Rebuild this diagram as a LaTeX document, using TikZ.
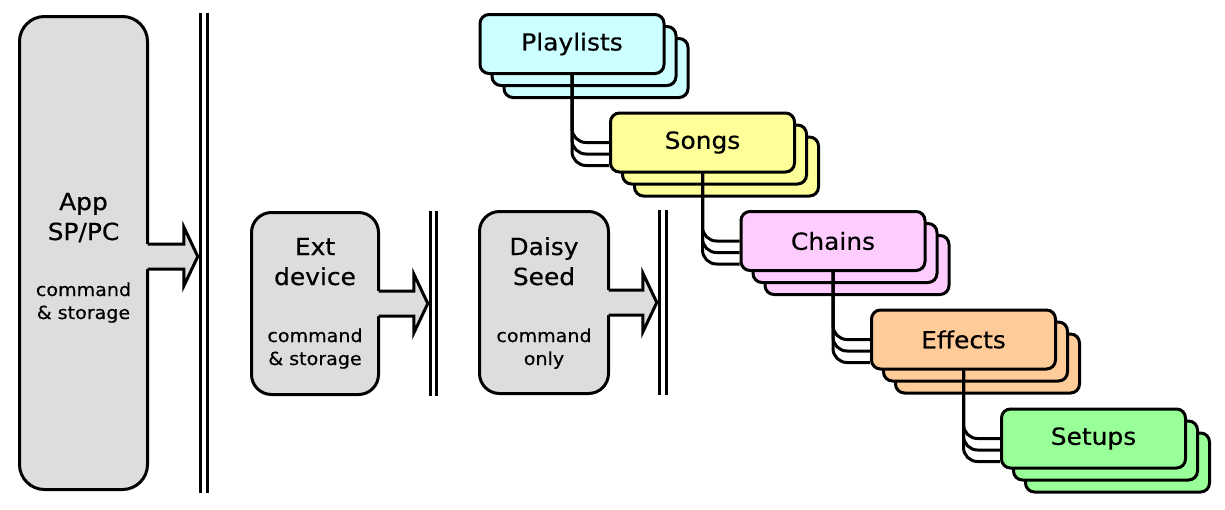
\documentclass[tikz,border=0pt]{standalone}
\usepackage{fontspec}
\setmainfont{DejaVu Sans}[FakeStretch=1.06, FakeBold=0.5]
\usetikzlibrary{calc}
\definecolor{boxgray}{HTML}{DDDDDD}
\definecolor{cPlay}{HTML}{CCFFFF}
\definecolor{cSong}{HTML}{FFFF99}
\definecolor{cChain}{HTML}{FFCCFF}
\definecolor{cEff}{HTML}{FFCC99}
\definecolor{cSet}{HTML}{99FF99}
\newcommand{\blockarr}[2]{%
  \fill[boxgray] ($(#1)+(-4,-12.5)$) -- ($(#2)+(-14,-12.5)$) -- ($(#2)+(-14,-29.5)$) -- (#2)
     -- ($(#2)+(-14,29.5)$) -- ($(#2)+(-14,12.5)$) -- ($(#1)+(-4,12.5)$) -- cycle;
  \draw[arrline] ($(#1)+(-1.5,-12.5)$) -- ($(#2)+(-14,-12.5)$) -- ($(#2)+(-14,-29.5)$) -- (#2)
     -- ($(#2)+(-14,29.5)$) -- ($(#2)+(-14,12.5)$) -- ($(#1)+(-1.5,12.5)$);
}
\begin{document}
\begin{tikzpicture}[x=1pt,y=-1pt,
  graybox/.style={draw, line width=3pt, fill=boxgray, inner sep=0pt},
  barnode/.style={inner sep=0pt, minimum width=10pt},
  barline/.style={line width=3.6pt},
  arrline/.style={line width=3pt, line join=miter},
  bigtxt/.style={font=\fontsize{23.5}{28}\selectfont, inner sep=0pt, anchor=base},
  smalltxt/.style={font=\fontsize{18}{21}\selectfont, inner sep=0pt, anchor=base},
  stackbox/.style={draw, line width=3pt, rounded corners=9pt, minimum width=184pt,
     minimum height=59pt, inner sep=0pt, font=\fontsize{23.5}{28}\selectfont},
  conn/.style={line width=3pt, rounded corners=14pt}
]
\useasboundingbox (0,0) rectangle (1225,509);

% left gray boxes
\node[graybox, rounded corners=25pt, minimum width=128pt, minimum height=473pt] (app) at (83.5,253) {};
\node[graybox, rounded corners=20pt, minimum width=127pt, minimum height=182pt] (ext) at (315,303.5) {};
\node[graybox, rounded corners=20pt, minimum width=129pt, minimum height=182pt] (daisy) at (544,302.5) {};

\node[bigtxt] (appt1) at (83.5,210) {App};
\node[bigtxt] (appt2) at (83.5,240) {SP/PC};
\node[smalltxt] (appt3) at (83.5,296) {command};
\node[smalltxt] (appt4) at (83.5,319) {\& storage};

\node[bigtxt] (extt1) at (315,255) {Ext};
\node[bigtxt] (extt2) at (315,285) {device};
\node[smalltxt] (extt3) at (315,342) {command};
\node[smalltxt] (extt4) at (315,365) {\& storage};

\node[bigtxt] (dst1) at (544,255) {Daisy};
\node[bigtxt] (dst2) at (544,285) {Seed};
\node[smalltxt] (dst3) at (544,342) {command};
\node[smalltxt] (dst4) at (544,365) {only};

% bars
\node[barnode, minimum height=480pt] (bar1) at (204,253) {};
\node[barnode, minimum width=9pt, minimum height=185pt] (bar2) at (433.5,303.5) {};
\node[barnode, minimum height=185pt] (bar3) at (663,302.5) {};

% block arrows
\coordinate (s1) at ($(app.east)+(0,3.5)$);
\coordinate (t1) at ($(bar1.west |- s1)+(-1,0)$);
\coordinate (s2) at (ext.east);
\coordinate (t2) at ($(bar2.west |- s2)+(-1,0)$);
\coordinate (s3) at (daisy.east);
\coordinate (t3) at ($(bar3.west |- s3)+(-1,0)$);
\blockarr{s1}{t1}
\blockarr{s2}{t2}
\blockarr{s3}{t3}

\foreach \b in {bar1,bar2,bar3}{
  \draw[barline] ([xshift=1.8pt]\b.north west) -- ([xshift=1.8pt]\b.south west);
  \draw[barline] ([xshift=-1.8pt]\b.north east) -- ([xshift=-1.8pt]\b.south east);
}

% stacks
\node[stackbox, fill=cPlay] (pl3) at (596,68) {};
\node[stackbox, fill=cPlay] (pl2) at (584,56) {};
\node[stackbox, fill=cPlay] (pl) at (572,44) {Playlists};

\node[stackbox, fill=cSong] (so3) at (726.5,166.5) {};
\node[stackbox, fill=cSong] (so2) at (714.5,154.5) {};
\node[stackbox, fill=cSong] (so) at (702.5,142.5) {Songs};

\node[stackbox, fill=cChain] (ch3) at (857,265) {};
\node[stackbox, fill=cChain] (ch2) at (845,253) {};
\node[stackbox, fill=cChain] (ch) at (833,241) {Chains};

\node[stackbox, fill=cEff] (ef3) at (987.5,363.5) {};
\node[stackbox, fill=cEff] (ef2) at (975.5,351.5) {};
\node[stackbox, fill=cEff] (ef) at (963.5,339.5) {Effects};

\node[stackbox, fill=cSet] (se3) at (1117.5,462.5) {};
\node[stackbox, fill=cSet] (se2) at (1105.5,450.5) {};
\node[stackbox, fill=cSet] (se) at (1093.5,438.5) {Setups};

% connectors
\foreach \p/\c in {pl/so, so/ch, ch/ef, ef/se}{
  \draw[conn] (\p.south) |- (\c.west);
  \draw[conn] (\p.south) |- ($(\c.west)+(0,11.5)$);
  \draw[conn] (\p.south) |- ($(\c.west)+(0,23)$);
}
\end{tikzpicture}
\end{document}
